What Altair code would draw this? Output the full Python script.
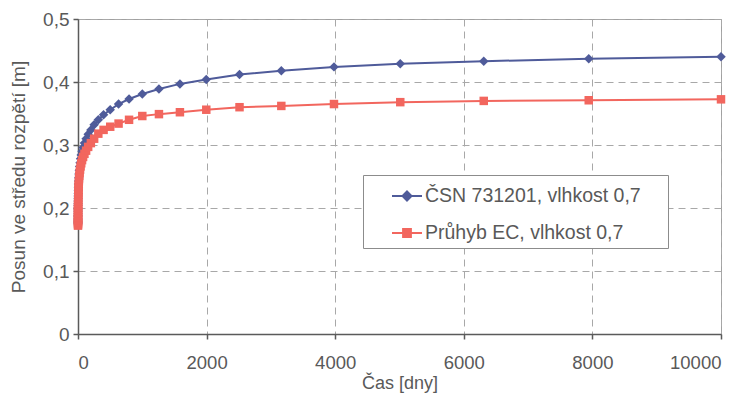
import altair as alt
import pandas as pd

# time points [days]
t_days = [0.1, 0.13, 0.16, 0.2, 0.25, 0.32, 0.4, 0.5, 0.63, 0.79,
          1, 1.26, 1.58, 2, 2.5, 3.2, 4, 5, 6.3, 7.9,
          10, 12.6, 15.8, 20, 25, 32, 40, 50, 63, 79,
          100, 126, 158, 200, 251, 316, 398, 501, 631, 794,
          1000, 1259, 1585, 1995, 2512, 3162, 3981, 5012, 6310, 7943, 10000]

csn_vals = [0.175, 0.177, 0.179, 0.181, 0.183, 0.186, 0.188, 0.191, 0.194, 0.197,
            0.200, 0.204, 0.207, 0.211, 0.215, 0.219, 0.223, 0.228, 0.233, 0.238,
            0.243, 0.248, 0.254, 0.260, 0.266, 0.272, 0.278, 0.284, 0.290, 0.296,
            0.303, 0.310, 0.317, 0.324, 0.332, 0.340, 0.348, 0.356, 0.365, 0.373,
            0.381, 0.389, 0.397, 0.404, 0.412, 0.418, 0.424, 0.429, 0.433, 0.437, 0.440]

ec_vals = [0.172, 0.174, 0.176, 0.178, 0.180, 0.183, 0.185, 0.188, 0.191, 0.194,
           0.197, 0.200, 0.204, 0.207, 0.211, 0.215, 0.219, 0.223, 0.227, 0.232,
           0.236, 0.241, 0.246, 0.251, 0.256, 0.261, 0.266, 0.271, 0.276, 0.281,
           0.286, 0.291, 0.297, 0.303, 0.310, 0.318, 0.324, 0.329, 0.334, 0.340,
           0.346, 0.349, 0.352, 0.356, 0.360, 0.362, 0.365, 0.368, 0.370, 0.371, 0.3725]

series_names = ["ČSN 731201, vlhkost 0,7", "Průhyb EC, vlhkost 0,7"]
series_colors = ["#4F5B9A", "#F2665E"]
x_ticks = [0, 2000, 4000, 6000, 8000, 10000]
y_ticks = [0, 0.1, 0.2, 0.3, 0.4, 0.5]

df = pd.DataFrame({
    "t": t_days * 2,
    "v": csn_vals + ec_vals,
    "series": [series_names[0]] * len(t_days) + [series_names[1]] * len(t_days),
})

FONT = "Liberation Sans"
TXT = "#595959"
PAD_TAIL = "\u00a0" * 4 + "\u200b"

x_enc = alt.X("t:Q", scale=alt.Scale(domain=[0, 10000], nice=False, zero=False),
              axis=alt.Axis(values=x_ticks, title="Čas [dny]", format="d",
                            labelFontSize=18.5, labelPadding=14, titlePadding=3,
                            titleFontSize=18))
y_enc = alt.Y("v:Q", scale=alt.Scale(domain=[0, 0.5], nice=False),
              axis=alt.Axis(values=y_ticks, title="Posun ve středu rozpětí [m]",
                            labelExpr="datum.value == 0 ? '0' : replace(format(datum.value, '.1f'), '.', ',')",
                            labelPadding=4, titlePadding=14))

base = alt.Chart(df).encode(x=x_enc, y=y_enc)

blue_line = base.transform_filter(alt.datum.series == series_names[0]).mark_line(
    color=series_colors[0], strokeWidth=2)
blue_pts = base.transform_filter(alt.datum.series == series_names[0]).mark_point(
    shape="diamond", filled=True, color=series_colors[0], size=90, opacity=1)
red_line = base.transform_filter(alt.datum.series == series_names[1]).mark_line(
    color=series_colors[1], strokeWidth=2)
red_pts = base.transform_filter(alt.datum.series == series_names[1]).mark_point(
    shape="square", filled=True, color=series_colors[1], size=72, opacity=1)

legend_shapes = ["M-1,0H1M0,-0.3L0.3,0L0,0.3L-0.3,0Z",
                 "M-1,0H1M-0.26,-0.26H0.26V0.26H-0.26Z"]

leg = alt.Legend(orient="none", legendX=285, legendY=156, title=None,
                 labelFont=FONT, labelFontSize=19.5, labelColor=TXT, labelLimit=500,
                 labelExpr="datum.label + '" + PAD_TAIL + "'",
                 symbolSize=900, symbolStrokeWidth=2, symbolOffset=23, labelOffset=2,
                 padding=5, rowPadding=11, strokeColor="#8c8c8c", fillColor="white",
                 symbolType="circle")

legend_layer = base.transform_filter("false").mark_point(filled=True, strokeWidth=2, size=900, opacity=1).encode(
    fill=alt.Fill("series:N", scale=alt.Scale(domain=series_names, range=series_colors), legend=leg),
    stroke=alt.Stroke("series:N", scale=alt.Scale(domain=series_names, range=series_colors), legend=leg),
    shape=alt.Shape("series:N", scale=alt.Scale(domain=series_names, range=legend_shapes), legend=leg),
)

chart = alt.layer(blue_line, blue_pts, red_line, red_pts, legend_layer).properties(
    width=643, height=315,
    autosize=alt.AutoSizeParams(type="none"),
    padding={"left": 70, "top": 11, "right": 26, "bottom": 61},
).configure_view(
    stroke="#a0a0a0", strokeWidth=1
).configure_axis(
    labelFont=FONT, labelFontSize=19, labelColor=TXT,
    titleFont=FONT, titleFontSize=19, titleColor=TXT, titleFontWeight="normal",
    domainColor="#5a5a5a", domainWidth=1.5, tickColor="#5a5a5a", tickSize=5, tickWidth=1.5,
    gridColor="#a8a8a8", gridDash=[7, 5], gridWidth=1,
)

chart.save("out.html", embed_options={"renderer": "svg", "actions": False})
